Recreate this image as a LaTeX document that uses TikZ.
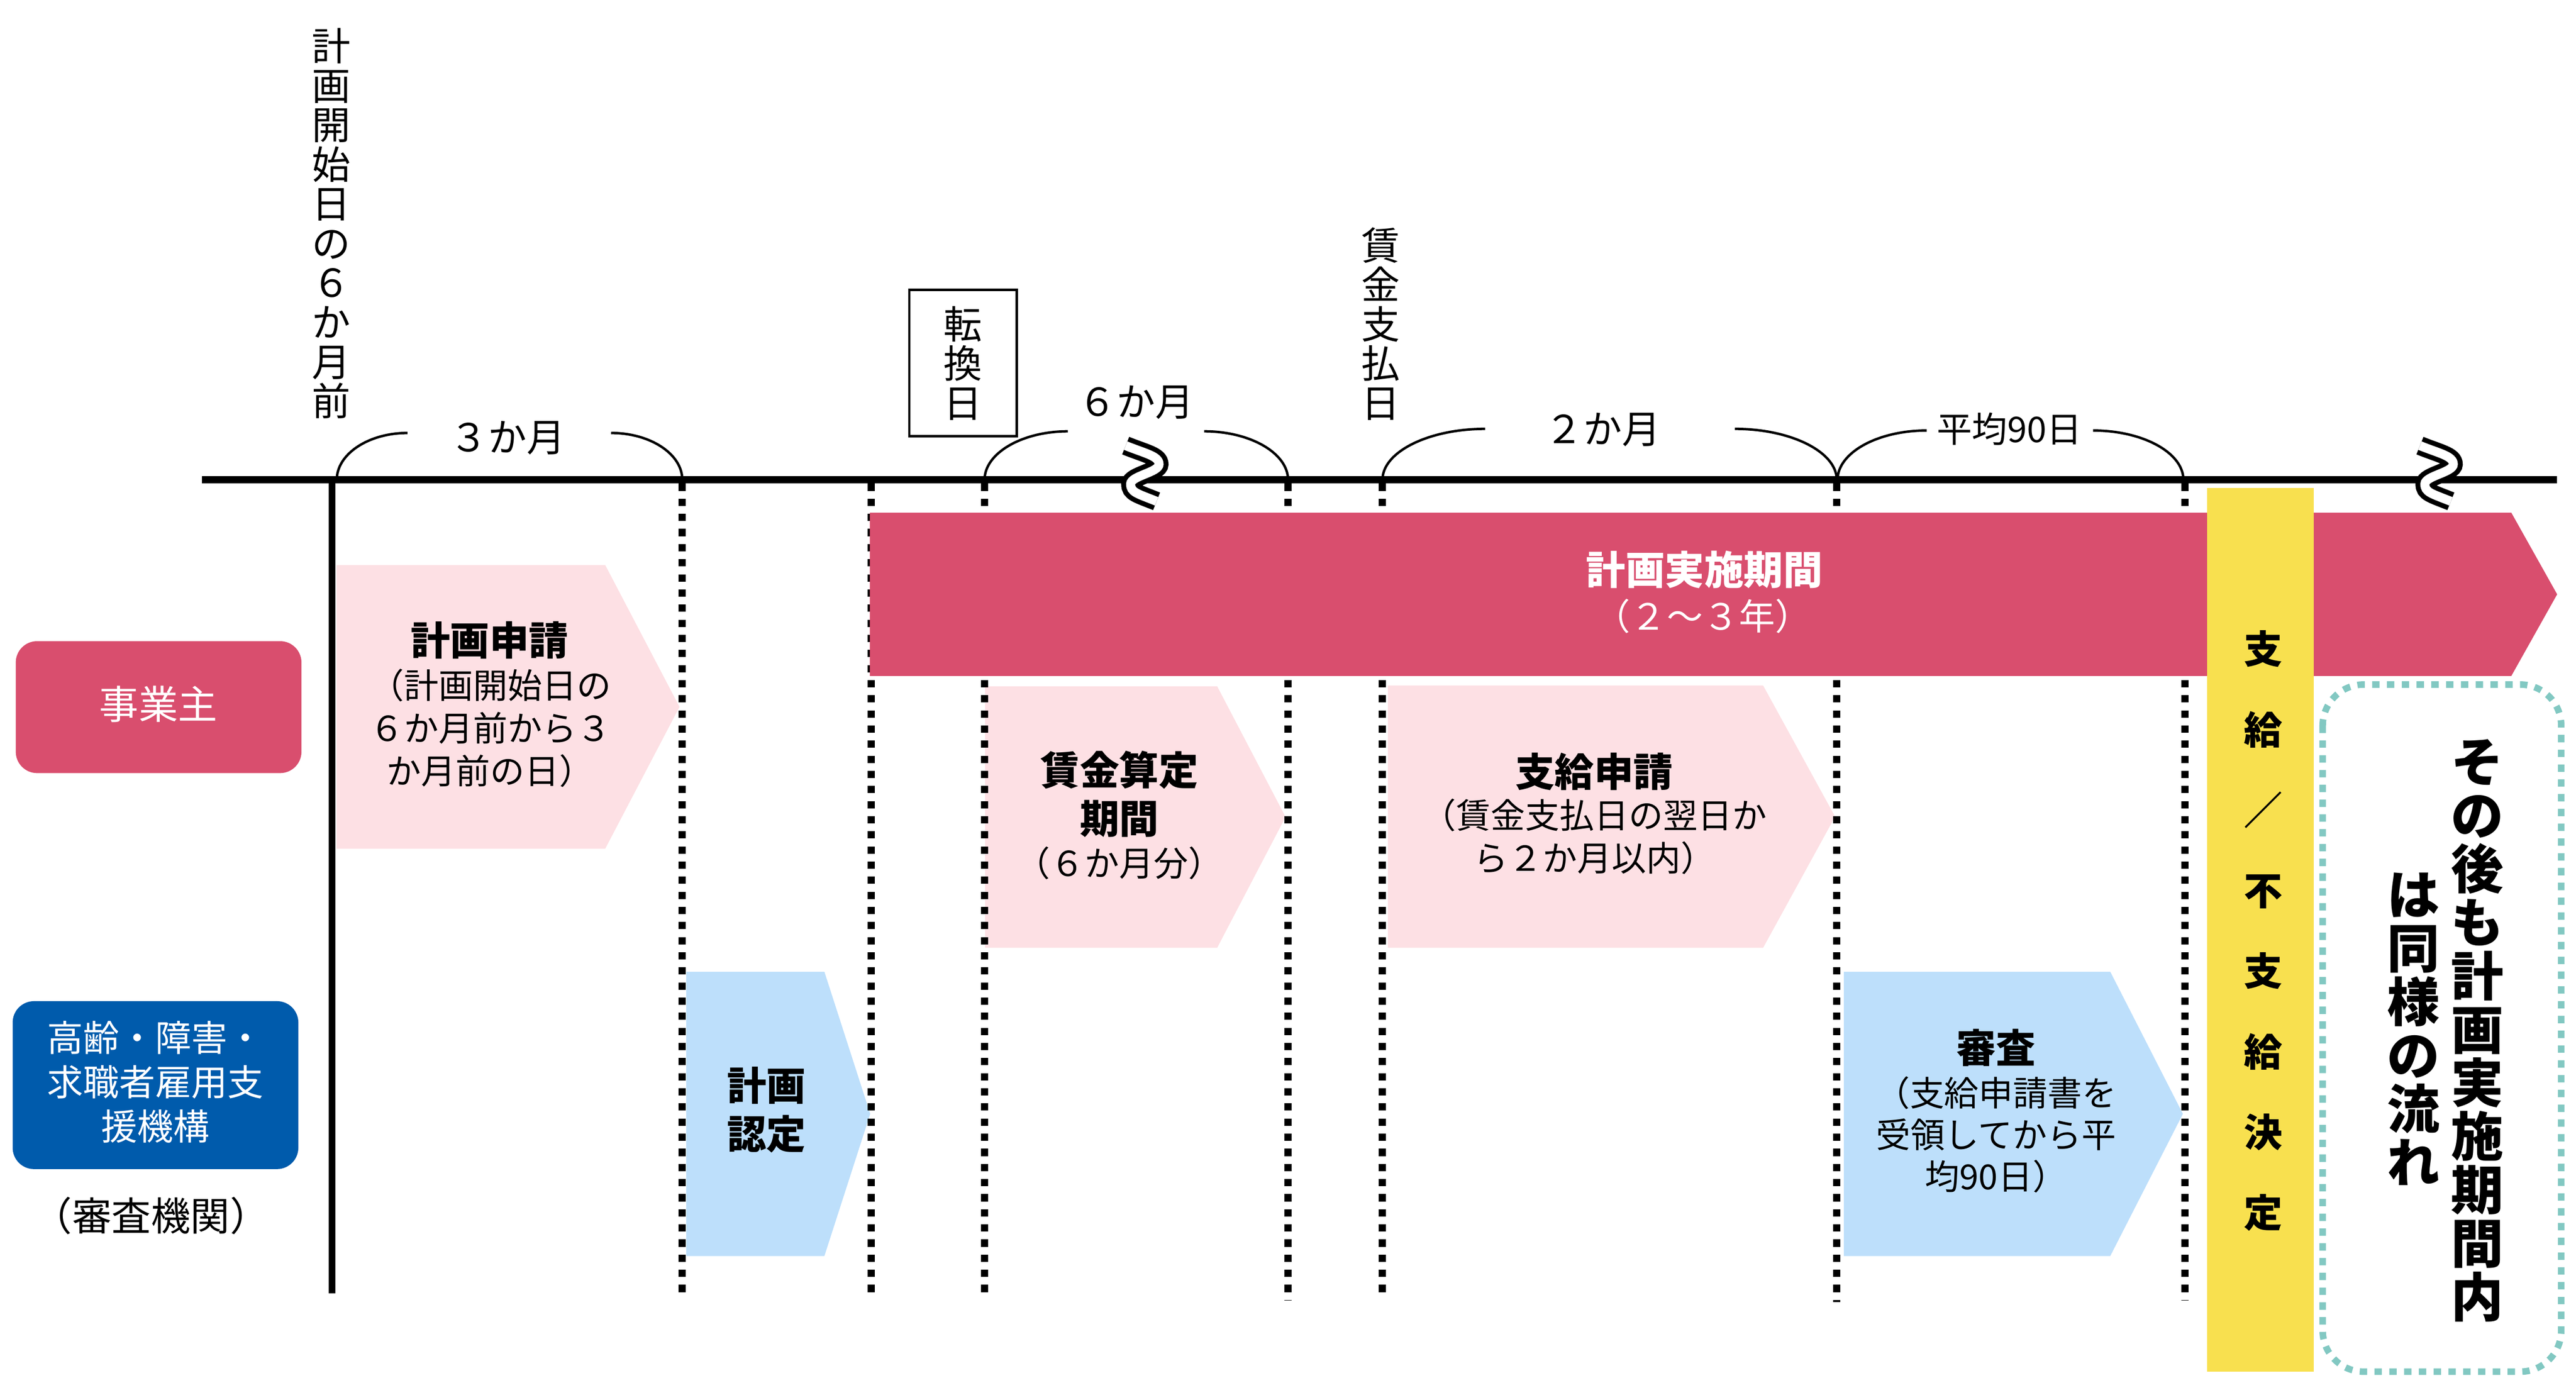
\documentclass[tikz,border=0pt]{standalone}
\usepackage{fontspec}
\setmainfont{Noto Sans CJK JP}
\definecolor{dpink}{HTML}{D94E6E}
\definecolor{lpink}{HTML}{FDE0E4}
\definecolor{lblue}{HTML}{BDDFFB}
\definecolor{dblue}{HTML}{005BAC}
\definecolor{ylw}{HTML}{F8E04F}
\definecolor{tealdot}{HTML}{82C8C2}
\tikzset{
  lbl/.style={inner sep=0pt, align=center, font=\fontsize{23.5}{24}\selectfont},
  smlbl/.style={inner sep=0pt, align=center, font=\fontsize{21.5}{24}\selectfont},
  body/.style={inner sep=0pt, align=center, font=\fontsize{21}{26}\selectfont},
  ttl/.style={inner sep=0pt, align=center, font=\fontsize{24}{29.5}\selectfont\bfseries},
  vdots/.style={line width=4.4pt, dash pattern=on 4.45pt off 4.75pt},
  spanarc/.style={line width=1.5pt},
  brkout/.style={line width=11.5pt, line cap=butt},
  brkin/.style={line width=5.5pt, white, line cap=butt},
  actor/.style={rounded corners=13pt, draw=none},
}
\begin{document}
\begin{tikzpicture}[x=1pt,y=-1pt]
\useasboundingbox (0,0) rectangle (1568,841.4);

% light boxes (pentagons)
\fill[lpink] (204.9,343.9) -- (368.4,343.9) -- (413.6,430.2) -- (368.4,516.5) -- (204.9,516.5) -- cycle;
\fill[lpink] (599.6,417.7) -- (740.9,417.7) -- (782.5,497.2) -- (740.9,576.8) -- (599.6,576.8) -- cycle;
\fill[lpink] (844.8,417.2) -- (1073.2,417.2) -- (1117,497) -- (1073.2,576.8) -- (844.8,576.8) -- cycle;
\fill[lblue] (417.7,591.4) -- (501.8,591.4) -- (529.7,677.9) -- (501.8,764.4) -- (417.7,764.4) -- cycle;
\fill[lblue] (1122.3,591.4) -- (1284.5,591.4) -- (1328.7,677.9) -- (1284.5,764.4) -- (1122.3,764.4) -- cycle;

% vertical guide lines
\draw[line width=4pt] (202,292) -- (202,787);
\draw[vdots] (415.3,294.3) -- (415.3,786.7);
\draw[vdots] (530.3,294.3) -- (530.3,786.7);
\draw[vdots] (599.3,294.3) -- (599.3,786.7);
\draw[vdots] (784,294.3) -- (784,791.4);
\draw[vdots] (841.4,294.3) -- (841.4,786.7);
\draw[vdots] (1118,294.3) -- (1118,792.5);
\draw[vdots] (1330,294.3) -- (1330,791.4);

% main period bar
\fill[dpink] (529.5,312) -- (1528.6,312) -- (1556.5,361.7) -- (1528.6,411.4) -- (529.5,411.4) -- cycle;
\node[ttl, text=white] (impl) at (1037.4,346.6) {計画実施期間};
\node[inner sep=0pt, font=\fontsize{22}{24}\selectfont, text=white] (implyr) at (1036.5,375) {（２～３年）};

% yellow decision bar
\fill[ylw] (1343.3,297) rectangle (1408.4,834.8);
\node[inner sep=0pt, align=center, font=\fontsize{23.5}{49}\selectfont\bfseries] (decide) at (1377.5,566.5)
  {支\\給\\／\\不\\支\\給\\決\\定};

% time axis
\draw[line width=4.4pt] (123,292) -- (1556.5,292);

% break marks
\foreach \dx in {0,787.8} {
  \begin{scope}[xshift=\dx]
  \draw[brkout] (685.2,271.2) .. controls (697,276) and (705.5,277.5) .. (705.5,282.5)
     .. controls (705.5,287.5) and (688.2,289.6) .. (688.2,294.6)
     .. controls (688.2,299.6) and (692,300.3) .. (704,305.1);
  \draw[brkin] (685.2,271.2) .. controls (697,276) and (705.5,277.5) .. (705.5,282.5)
     .. controls (705.5,287.5) and (688.2,289.6) .. (688.2,294.6)
     .. controls (688.2,299.6) and (692,300.3) .. (704,305.1);
  \end{scope}
}

% span arcs
\draw[spanarc] (205,292) .. controls (205,276.3) and (224.3,263.5) .. (248,263.5);
\draw[spanarc] (372,263.5) .. controls (395.8,263.5) and (415.3,276.3) .. (415.3,292);
\node[lbl] (m3) at (309,266.4) {３か月};

\draw[spanarc] (599.3,292) .. controls (599.3,275.8) and (622.1,262.5) .. (650,262.5);
\draw[spanarc] (733,262.5) .. controls (761,262.5) and (784,275.8) .. (784,292);
\node[lbl] (m6) at (691.6,245) {６か月};

\draw[spanarc] (841.5,292) .. controls (841.5,275) and (869.6,261) .. (904,261);
\draw[spanarc] (1056,261) .. controls (1090.1,261) and (1118,275) .. (1118,292);
\node[lbl] (m2) at (975.6,261.5) {２か月};

\draw[spanarc] (1118.5,292) .. controls (1118.5,275.5) and (1142.9,262) .. (1172.7,262);
\draw[spanarc] (1274,262) .. controls (1304.3,262) and (1329,275.5) .. (1329,292);
\node[smlbl] (avg) at (1223,261) {平均90日};

% vertical date labels
\node[lbl] (start6) at (201.5,136) {計\\画\\開\\始\\日\\の\\６\\か\\月\\前};
\draw[line width=1.5pt] (553.5,176.5) rectangle (619,265.4);
\node[lbl] (conv) at (586,221) {転\\換\\日};
\node[lbl] (payday) at (840.5,197) {賃\\金\\支\\払\\日};

% box texts
\node[ttl] (t1) at (298,389.7) {計画申請};
\node[body] (b1) at (298.5,443.1) {（計画開始日の\\６か月前から３\\か月前の日）};
\node[ttl] (t2) at (681.3,483.3) {賃金算定\\期間};
\node[body] (b2) at (681.4,525.3) {（６か月分）};
\node[ttl] (t3) at (970.3,469.5) {支給申請};
\node[body] (b3) at (970.5,509) {（賃金支払日の翌日か\\ら２か月以内）};
\node[ttl] (t4) at (466.5,675.5) {計画\\認定};
\node[ttl] (t5) at (1214.9,637.6) {審査};
\node[body, font=\fontsize{21}{25.5}\selectfont] (b5) at (1215,690.5) {（支給申請書を\\受領してから平\\均90日）};

% actors
\fill[dpink, actor] (9.6,390.2) rectangle (183.5,470.5);
\node[inner sep=0pt, text=white, font=\fontsize{24}{26}\selectfont] (emp) at (96.5,428.5) {事業主};
\fill[dblue, actor] (7.7,609.3) rectangle (181.6,711.5);
\node[inner sep=0pt, align=center, text=white, font=\fontsize{22}{27}\selectfont] (org) at (94.6,658.4)
  {高齢・障害・\\求職者雇用支\\援機構};
\node[inner sep=0pt, font=\fontsize{24}{26}\selectfont] (orgnote) at (92,740) {（審査機関）};

% after that
\draw[tealdot, line width=4pt, dash pattern=on 4.5pt off 4.5pt, rounded corners=25pt]
  (1413.8,416.6) rectangle (1559,834.8);
\node[inner sep=0pt, align=center, font=\fontsize{32}{32.6}\selectfont\bfseries] (after1) at (1508,627.2)
  {そ\\の\\後\\も\\計\\画\\実\\施\\期\\間\\内};
\node[inner sep=0pt, align=center, font=\fontsize{32}{32.6}\selectfont\bfseries] (after2) at (1469,626.3)
  {は\\同\\様\\の\\流\\れ};
\end{tikzpicture}
\end{document}
